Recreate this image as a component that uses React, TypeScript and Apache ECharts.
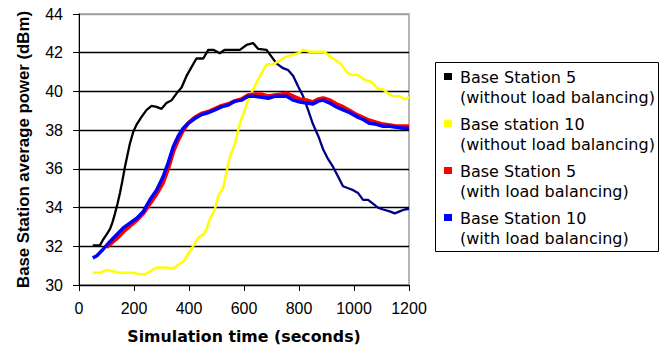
import React, { useEffect, useRef } from "react";
import * as echarts from "echarts";

// Simulation time (s) and average power (dBm) for each base station
const bs5NoLbTime = [50, 76, 88, 100, 113, 122, 131, 140, 149, 158, 167, 176, 185, 197, 210, 228, 246, 264, 282, 300, 318, 337, 355, 373, 391, 403, 427, 452, 470, 488, 512, 530, 561, 585, 609, 633, 651, 682, 700, 718, 742, 761, 779, 797, 815, 833, 851, 870, 888, 906, 924, 942, 960, 979, 997, 1015, 1033, 1051, 1069, 1087, 1106, 1130, 1148, 1166, 1184, 1200];
const bs5NoLbPower = [32.05, 32.05, 32.35, 32.6, 32.9, 33.25, 33.7, 34.2, 34.75, 35.4, 36.1, 36.7, 37.3, 37.9, 38.3, 38.7, 39.05, 39.25, 39.2, 39.1, 39.4, 39.55, 39.9, 40.2, 40.8, 41.1, 41.7, 41.7, 42.15, 42.15, 41.97, 42.15, 42.15, 42.15, 42.4, 42.5, 42.2, 42.15, 41.8, 41.45, 41.2, 41.1, 40.8, 40.25, 39.75, 39.05, 38.3, 37.7, 37.0, 36.5, 36.1, 35.6, 35.1, 35.0, 34.9, 34.75, 34.4, 34.4, 34.2, 34.0, 33.9, 33.8, 33.7, 33.8, 33.9, 33.93];
// From this time on the BS5 trace is drawn in navy
const bs5NoLbShadeFrom = 718;

const bs10NoLbTime = [50, 76, 100, 125, 149, 173, 197, 222, 240, 258, 282, 318, 343, 361, 379, 397, 415, 434, 452, 464, 476, 494, 506, 524, 536, 549, 567, 585, 603, 615, 633, 651, 670, 682, 706, 730, 754, 779, 797, 815, 839, 863, 893, 912, 936, 954, 973, 991, 1015, 1039, 1063, 1087, 1106, 1124, 1142, 1166, 1184, 1200];
const bs10NoLbPower = [30.63, 30.63, 30.77, 30.7, 30.63, 30.63, 30.63, 30.55, 30.55, 30.7, 30.9, 30.9, 30.85, 31.05, 31.2, 31.6, 32.0, 32.45, 32.6, 32.9, 33.4, 33.9, 34.6, 35.0, 35.8, 36.65, 37.3, 38.35, 39.05, 39.55, 40.1, 40.6, 41.1, 41.4, 41.4, 41.6, 41.8, 41.9, 41.97, 42.15, 42.05, 42.05, 42.05, 41.8, 41.6, 41.4, 41.0, 40.85, 40.85, 40.6, 40.5, 40.15, 40.1, 39.9, 39.75, 39.75, 39.6, 39.7];

const bs5LbTime = [100, 137, 161, 185, 210, 234, 258, 282, 306, 324, 343, 361, 379, 397, 421, 445, 470, 494, 518, 543, 567, 591, 615, 639, 664, 688, 712, 736, 755, 779, 803, 827, 851, 870, 888, 912, 936, 960, 985, 1009, 1033, 1057, 1081, 1106, 1130, 1154, 1178, 1200];
const bs5LbPower = [31.95, 32.4, 32.75, 33.05, 33.35, 33.7, 34.2, 34.7, 35.3, 36.0, 36.9, 37.5, 38.0, 38.35, 38.65, 38.85, 38.95, 39.1, 39.25, 39.35, 39.5, 39.6, 39.8, 39.85, 39.85, 39.75, 39.8, 39.85, 39.9, 39.75, 39.6, 39.55, 39.45, 39.6, 39.65, 39.55, 39.35, 39.2, 39.0, 38.8, 38.65, 38.5, 38.4, 38.3, 38.25, 38.2, 38.2, 38.2];

const bs10LbTime = [50, 64, 88, 113, 137, 161, 185, 210, 234, 258, 282, 306, 324, 343, 361, 379, 397, 421, 445, 470, 494, 518, 543, 567, 591, 615, 639, 664, 688, 712, 736, 755, 779, 803, 827, 851, 870, 888, 912, 936, 960, 985, 1009, 1033, 1057, 1081, 1106, 1130, 1154, 1178, 1200];
const bs10LbPower = [31.4, 31.5, 31.85, 32.25, 32.6, 32.95, 33.2, 33.45, 33.8, 34.4, 34.9, 35.6, 36.3, 37.15, 37.7, 38.1, 38.35, 38.6, 38.8, 38.9, 39.05, 39.2, 39.3, 39.5, 39.55, 39.75, 39.75, 39.7, 39.65, 39.75, 39.75, 39.75, 39.55, 39.45, 39.4, 39.35, 39.5, 39.55, 39.4, 39.2, 39.05, 38.9, 38.7, 38.55, 38.35, 38.3, 38.2, 38.2, 38.15, 38.1, 38.1];

const seriesTitles = ["Base Station 5", "Base station 10", "Base Station 5", "Base Station 10"];
const seriesNotes = ["(without load balancing)", "(without load balancing)", "(with load balancing)", "(with load balancing)"];
const seriesColors = ["#000000", "#FFFF00", "#FF0000", "#0000FF"];
const bs5NoLbLateColor = "#000080";

const xAxisTitle = "Simulation time (seconds)";
const yAxisTitle = "Base Station average power (dBm)";

const pairs = (t: number[], v: number[]) => t.map((x, i) => [x, v[i]]);

export default function App() {
  const ref = useRef<HTMLDivElement>(null);

  useEffect(() => {
    if (!ref.current) return;
    const chart = echarts.init(ref.current, null, { renderer: "svg" });

    const bs5NoLb = pairs(bs5NoLbTime, bs5NoLbPower);
    const bs5NoLbEarly = bs5NoLb.filter((p) => p[0] <= bs5NoLbShadeFrom);
    const bs5NoLbLate = bs5NoLb.filter((p) => p[0] >= bs5NoLbShadeFrom);

    const legendTop = 62;
    const entryPitch = 47;
    const legendItems: any[] = [
      {
        type: "rect",
        shape: { x: 435.5, y: legendTop + 0.5, width: 223, height: 189 },
        style: { fill: "#fff", stroke: "#000", lineWidth: 1 },
      },
    ];
    seriesTitles.forEach((title, i) => {
      const lineY = legendTop + 15 + i * entryPitch;
      legendItems.push({
        type: "rect",
        shape: { x: 444, y: lineY - 4, width: 8, height: 7 },
        style: { fill: seriesColors[i] },
      });
      legendItems.push({
        type: "text",
        x: 460,
        y: lineY - 10,
        style: {
          text: title + "\n" + seriesNotes[i],
          fill: "#000",
          fontFamily: "DejaVu Sans",
          fontSize: 16,
          lineHeight: 20,
          verticalAlign: "top",
        },
      });
    });

    // 30..44 gridlines: black inside the plot, the top one matches the grey frame
    const gridColors = ["#000", "#000", "#000", "#000", "#000", "#000", "#000", "#a0a0a0"];

    chart.setOption({
      animation: false,
      backgroundColor: "#fff",
      grid: {
        left: 79,
        top: 14,
        right: 258,
        bottom: 63,
        show: true,
        borderColor: "#a0a0a0",
        borderWidth: 1.5,
      },
      xAxis: {
        type: "value",
        min: 0,
        max: 1200,
        interval: 200,
        name: xAxisTitle,
        nameLocation: "middle",
        nameGap: 43,
        nameTextStyle: { fontFamily: "DejaVu Sans", fontWeight: "bold", fontSize: 15.8, color: "#000" },
        axisLine: { show: true, lineStyle: { color: "#000", width: 1 } },
        axisTick: { show: true, length: 6, lineStyle: { color: "#000" } },
        axisLabel: {
          margin: 15,
          fontFamily: "Liberation Sans",
          fontSize: 16,
          color: "#000",
          formatter: (v: number) => String(v),
        },
        splitLine: { show: false },
      },
      yAxis: {
        type: "value",
        min: 30,
        max: 44,
        interval: 2,
        name: yAxisTitle,
        nameLocation: "middle",
        nameRotate: 90,
        nameGap: 47,
        nameTextStyle: { fontFamily: "Liberation Sans", fontWeight: "bold", fontSize: 16.8, color: "#000" },
        axisLine: { show: true, lineStyle: { color: "#000", width: 1 } },
        axisTick: { show: true, length: 6, lineStyle: { color: "#000" } },
        axisLabel: { margin: 16, fontFamily: "Liberation Sans", fontSize: 16, color: "#000" },
        splitLine: { show: true, lineStyle: { color: gridColors, width: 1.3 } },
      },
      series: [
        {
          type: "line",
          data: bs5NoLbEarly,
          showSymbol: false,
          lineStyle: { width: 2.3, color: seriesColors[0] },
          z: 2,
        },
        {
          type: "line",
          data: bs5NoLbLate,
          showSymbol: false,
          lineStyle: { width: 2.3, color: bs5NoLbLateColor },
          z: 2,
        },
        {
          type: "line",
          data: pairs(bs10NoLbTime, bs10NoLbPower),
          showSymbol: false,
          lineStyle: { width: 2.5, color: seriesColors[1] },
          z: 2,
        },
        {
          type: "line",
          data: pairs(bs5LbTime, bs5LbPower),
          showSymbol: false,
          lineStyle: { width: 4, color: seriesColors[2] },
          z: 3,
        },
        {
          type: "line",
          data: pairs(bs10LbTime, bs10LbPower),
          showSymbol: false,
          lineStyle: { width: 3.5, color: seriesColors[3] },
          z: 4,
        },
      ],
      graphic: legendItems,
    });

    return () => chart.dispose();
  }, []);

  return (
    <div
      ref={ref}
      style={{ position: "absolute", left: 0, top: 0, width: 667, height: 349 }}
    />
  );
}
